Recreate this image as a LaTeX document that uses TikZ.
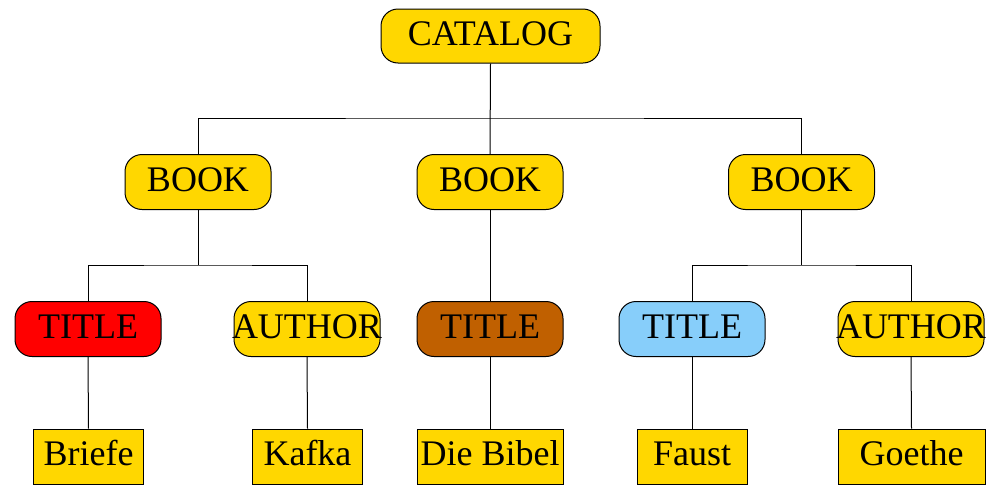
\documentclass[tikz,border=0pt]{standalone}
\usepackage{fontspec}
\setmainfont{Liberation Serif}
\usetikzlibrary{positioning}
\definecolor{goldfill}{RGB}{255,215,0}
\definecolor{redfill}{RGB}{255,0,0}
\definecolor{brownfill}{RGB}{192,96,0}
\definecolor{bluefill}{RGB}{135,206,250}
% centred label that may spill past a fixed box width
\newcommand{\wide}[1]{\makebox[146pt][c]{#1}}
\tikzset{
  base/.style={draw=black, line width=1pt, inner sep=0pt, align=center,
    font=\fontsize{36}{43}\selectfont, text height=26pt, text depth=8pt},
  elem/.style={base, rounded corners=17pt, minimum width=146pt, minimum height=55pt, fill=goldfill},
  leaf/.style={base, minimum height=55pt, fill=goldfill},
  link/.style={line width=1pt, draw=black}
}
\begin{document}
\begin{tikzpicture}[x=1pt,y=-1pt]
  \useasboundingbox (0,0) rectangle (988,485);
  % root
  \node[elem, minimum width=219pt, minimum height=54pt] (cat) at (490.5,36) {CATALOG};
  % books
  \node[elem] (b1) at (198,182) {BOOK};
  \node[elem] (b2) at (490,182) {BOOK};
  \node[elem] (b3) at (801.5,182) {BOOK};
  % titles and authors
  \node[elem, fill=redfill] (t1) at (88,329) {TITLE};
  \node[elem] (a1) at (307,329) {\wide{AUTHOR}};
  \node[elem, fill=brownfill] (t2) at (490,329) {TITLE};
  \node[elem, fill=bluefill] (t3) at (692,329) {TITLE};
  \node[elem] (a3) at (911,329) {\wide{AUTHOR}};
  % text leaves
  \node[leaf, minimum width=110pt] (l1) at (88.5,456.5) {Briefe};
  \node[leaf, minimum width=110pt] (l2) at (307.5,456.5) {Kafka};
  \node[leaf, minimum width=146pt] (l3) at (490,456.5) {Die Bibel};
  \node[leaf, minimum width=110pt] (l4) at (692,456.5) {Faust};
  \node[leaf, minimum width=147pt] (l5) at (911.5,456.5) {Goethe};
  % branch junctions
  \coordinate (j0) at (490,118);
  \coordinate (j1) at (198,265);
  \coordinate (j3) at (801.5,265);
  % connectors
  \draw[link] (cat.south) -- (b2.north);
  \draw[link] (b1.north) |- (j0) -| (b3.north);
  \draw[link] (b1.south) -- (j1);
  \draw[link] (t1.north) |- (j1) -| (a1.north);
  \draw[link] (b2.south) -- (t2.north);
  \draw[link] (b3.south) -- (j3);
  \draw[link] (t3.north) |- (j3) -| (a3.north);
  \draw[link] (t1.south) -- (l1.north);
  \draw[link] (a1.south) -- (l2.north);
  \draw[link] (t2.south) -- (l3.north);
  \draw[link] (t3.south) -- (l4.north);
  \draw[link] (a3.south) -- (l5.north);
\end{tikzpicture}
\end{document}
